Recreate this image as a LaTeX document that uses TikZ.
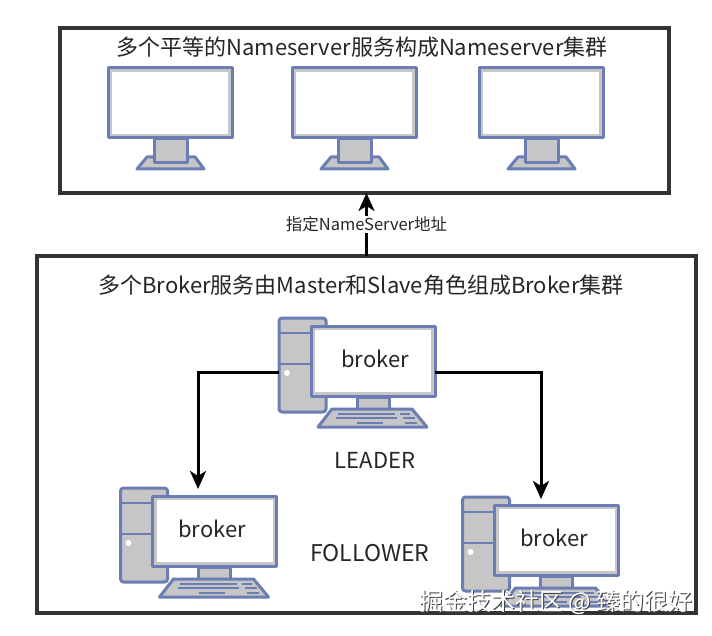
\documentclass[tikz,border=0pt]{standalone}
\usepackage{fontspec}
\setmainfont{Noto Sans CJK SC}
\usetikzlibrary{arrows.meta}
\definecolor{pcblue}{HTML}{6C7DB3}
\definecolor{pcgray}{HTML}{C6C6C6}
\definecolor{boxline}{HTML}{333333}
\definecolor{inktext}{HTML}{262626}
\newcommand\fsize[1]{\fontsize{#1}{#1}\selectfont}
\begin{document}
\begin{tikzpicture}[x=1pt,y=-1pt,
  box/.style={draw=boxline,line width=3.2pt,fill=white,inner sep=0pt,outer sep=0pt},
  part/.style={draw=pcblue,line width=3pt,fill=pcgray,line join=round},
  keyline/.style={draw=pcblue,line width=2.4pt},
  face/.style={part,inner sep=0pt,outer sep=0pt,minimum width=124pt,minimum height=70pt},
  glass/.style={fill=white,inner sep=0pt,outer sep=0pt,minimum width=116pt,minimum height=62pt},
  caption/.style={text=inktext,inner sep=0pt,font=\fsize{22}},
  link/.style={draw=black,line width=3pt,-{Stealth[length=18pt,width=16pt,inset=5pt]}}]

  \useasboundingbox (0,0) rectangle (712,636);

  \newcommand\Screen[2]{%% monitor only
    \begin{scope}[shift={(#2,103)}]
      \draw[part] (-23,54) -- (25,54) -- (34,66) -- (-33,66) -- cycle;
      \draw[part] (-16,36) rectangle (17,60);
      \node[face] (#1) at (0,0) {};
      \node[glass] (#1glass) at (0,0) {};
    \end{scope}}
  \newcommand\Broker[4]{%% tower, monitor, keyboard
    \begin{scope}[shift={(#2,#3)}]
      \node[part,rounded corners=3pt,inner sep=0pt,outer sep=0pt,minimum width=47pt,minimum height=94pt]
        (#1tower) at (-70.5,4) {};
      \draw[keyline] (-94,-28) -- (-47,-28);
      \draw[keyline] (-94,3) -- (-47,3);
      \fill[white] (-86,12) circle (3pt);
      \draw[part] (-16,36) rectangle (16,48);
      \draw[part] (-41,48) -- (39,48) -- (54,66) -- (-55,66) -- cycle;
      \draw[keyline] (-35,53) -- (22,53);
      \draw[keyline] (27,53) -- (37,53);
      \draw[keyline] (-37,57) -- (24,57);
      \draw[keyline] (30,57) -- (42,57);
      \draw[keyline] (-16,62) -- (10,62);
      \draw[keyline] (32,62) -- (44,62);
      \node[face] (#1) at (0,0) {};
      \node[glass] (#1glass) at (0,0) {};
      \node[caption] (#1name) at (#4,-2.5) {broker};
    \end{scope}}

  %% the two frames
  \node[box,minimum width=609pt,minimum height=165pt] (nameservers) at (364.5,110.5) {};
  \node[box,minimum width=659pt,minimum height=357pt] (brokers) at (366.5,434.5) {};

  \node[caption] (toptitle) at (362,47) {多个平等的Nameserver服务构成Nameserver集群};
  \node[caption] (lowtitle) at (361,285) {多个Broker服务由Master和Slave角色组成Broker集群};

  \Screen{nsa}{170}
  \Screen{nsb}{354}
  \Screen{nsc}{541}

  \Broker{leader}{373}{361}{2}
  \Broker{followa}{214.5}{531}{-2.5}
  \Broker{followb}{556.5}{540}{-2.5}

  \node[caption] (leadertag) at (375,460) {LEADER};
  \node[caption,font=\fsize{23}] (followtag) at (370,553) {FOLLOWER};

  \draw[link] (brokers.north) -- node[fill=white,inner sep=1pt,text=inktext,font=\fsize{16.5}] (addrtag)
    {指定NameServer地址} (nameservers.south -| brokers.north); %% brokers -> nameservers
  \draw[link] ([yshift=-7pt]leadertower.west) -| ([xshift=-16.5pt,yshift=7pt]followa.north); %% leader -> left
  \draw[link] ([yshift=-11pt]leader.east) -| ([xshift=-15.5pt,yshift=6pt]followb.north); %% leader -> right

  \node[inner sep=0pt,text=white,font=\fsize{24}] (mark) at (556,603)
    {\rlap{\kern1pt\raisebox{-1pt}{\textcolor{black!75}{掘金技术社区 @ 臻的很好}}}掘金技术社区 @ 臻的很好};

\end{tikzpicture}
\end{document}
